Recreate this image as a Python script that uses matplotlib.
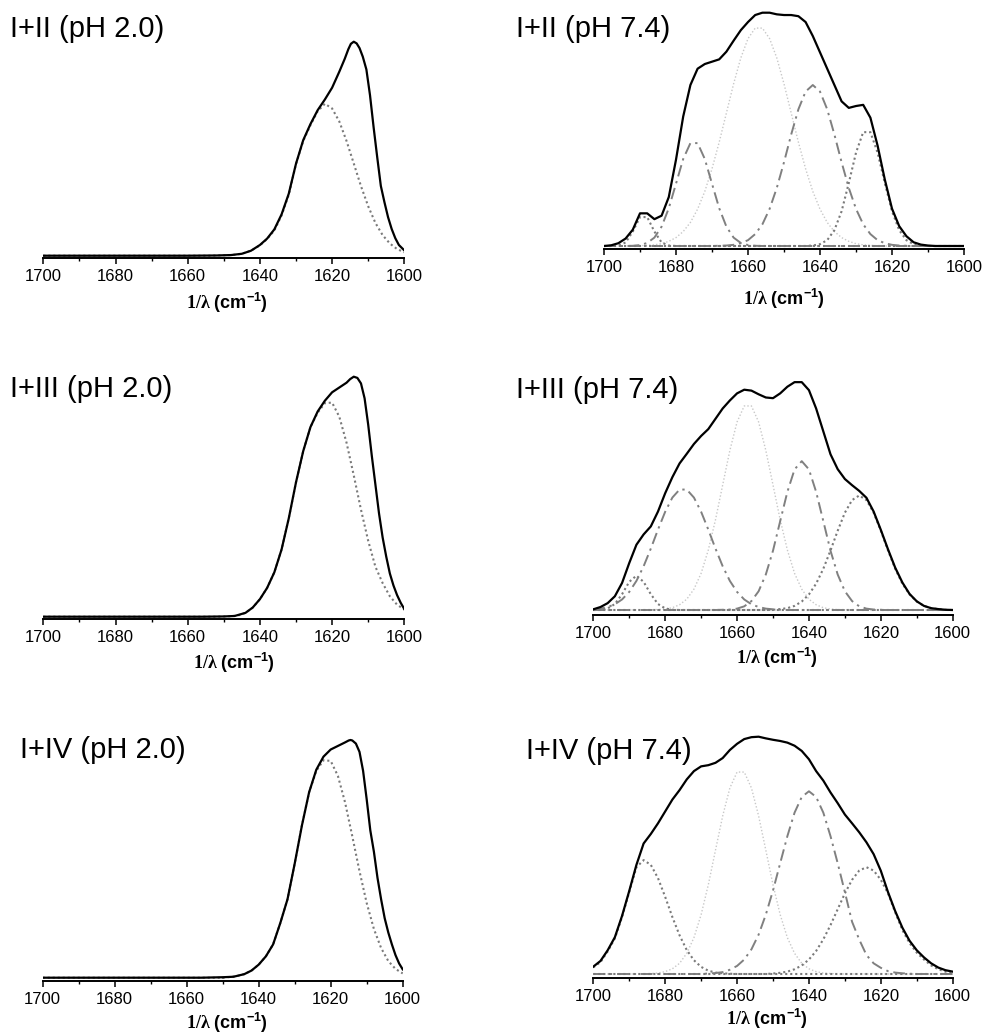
import numpy as np
import matplotlib
matplotlib.use("Agg")
import matplotlib.pyplot as plt

plt.rcParams['font.family'] = ['Liberation Sans', 'DejaVu Sans']
plt.rcParams['mathtext.fontset'] = 'custom'
plt.rcParams['mathtext.rm'] = 'Liberation Sans'
plt.rcParams['mathtext.bf'] = 'Liberation Serif:bold'
plt.rcParams['mathtext.sf'] = 'Liberation Sans:bold'

# wavenumber grid for the fitted bands, 1700 -> 1600 cm-1, every 2 cm-1
wn = np.arange(1700, 1599, -2)

# ---------------- I+II (pH 2.0) ----------------
wn_12_ph2 = [1700, 1660, 1652, 1648, 1645, 1642.5, 1640, 1638, 1636, 1634, 1632, 1630, 1628, 1626, 1624,
             1622, 1620, 1618, 1616.5, 1615.5, 1614.8, 1614, 1613.2, 1612.4, 1611.5, 1610.5, 1609.5, 1608.5,
             1607.5, 1606.5, 1605.5, 1604.5, 1603.5, 1602.5, 1601.5, 1600]
env_12_ph2 = [0, 0, 0.001, 0.003, 0.009, 0.023, 0.05, 0.08, 0.123, 0.193, 0.29, 0.43, 0.54, 0.615, 0.68,
              0.73, 0.785, 0.86, 0.92, 0.965, 0.99, 1.0, 0.992, 0.97, 0.93, 0.87, 0.75, 0.6,
              0.46, 0.326, 0.25, 0.18, 0.125, 0.082, 0.05, 0.025]
band_12_ph2 = [0]*24 + [0.001, 0.002, 0.003, 0.006, 0.014, 0.028, 0.048, 0.078, 0.118, 0.188, 0.285, 0.428, 0.536,
                        0.61, 0.675, 0.71, 0.688, 0.627, 0.536, 0.431, 0.325, 0.231, 0.153, 0.096, 0.057, 0.031, 0.016]

# ---------------- I+III (pH 2.0) ----------------
wn_13_ph2 = [1700, 1656, 1650, 1647, 1644, 1642, 1640, 1638, 1636, 1634, 1632, 1630, 1628, 1626, 1624, 1622,
             1620, 1618, 1616, 1615, 1614, 1613, 1612, 1611, 1610, 1609, 1608, 1607, 1606, 1605, 1604, 1603,
             1602, 1601, 1600]
env_13_ph2 = [0, 0, 0.001, 0.003, 0.016, 0.038, 0.073, 0.12, 0.185, 0.28, 0.41, 0.56, 0.69, 0.79, 0.855, 0.9,
              0.935, 0.955, 0.975, 0.99, 1.0, 0.995, 0.972, 0.91, 0.8, 0.67, 0.55, 0.43, 0.33, 0.25, 0.18, 0.13,
              0.09, 0.058, 0.032]
band_13_ph2 = [0]*25 + [0.001, 0.002, 0.005, 0.016, 0.038, 0.073, 0.12, 0.185, 0.28, 0.41, 0.56, 0.69, 0.79,
                        0.85, 0.89, 0.892, 0.833, 0.725, 0.589, 0.446, 0.316, 0.208, 0.14, 0.085, 0.05, 0.03]

# ---------------- I+IV (pH 2.0) ----------------
wn_14_ph2 = [1700, 1656, 1650, 1647, 1644, 1642, 1640, 1638, 1636, 1634, 1632, 1630, 1628, 1626, 1624, 1622,
             1620, 1618, 1616, 1615, 1614.5, 1614, 1613, 1612, 1611, 1610, 1609, 1608, 1607, 1606, 1605, 1604,
             1603, 1602, 1601, 1600]
env_14_ph2 = [0, 0, 0.002, 0.004, 0.015, 0.03, 0.055, 0.09, 0.14, 0.23, 0.33, 0.48, 0.64, 0.78, 0.875, 0.93,
              0.96, 0.975, 0.99, 0.998, 1.0, 0.998, 0.985, 0.95, 0.87, 0.75, 0.62, 0.53, 0.42, 0.33, 0.25, 0.19,
              0.14, 0.095, 0.06, 0.035]
band_14_ph2 = [0]*26 + [0.003, 0.007, 0.015, 0.03, 0.055, 0.09, 0.14, 0.23, 0.33, 0.48, 0.64, 0.78, 0.87,
                        0.915, 0.912, 0.849, 0.737, 0.595, 0.448, 0.314, 0.205, 0.125, 0.07, 0.037, 0.018]

# ---------------- I+II (pH 7.4) ----------------
env_12_ph7 = [0.0, 0.003, 0.012, 0.032, 0.07, 0.14, 0.14, 0.115, 0.13, 0.21, 0.37, 0.555, 0.69, 0.76, 0.78,
              0.79, 0.80, 0.833, 0.88, 0.925, 0.96, 0.99, 1.0, 1.0, 0.993, 0.99, 0.99, 0.985, 0.96, 0.9, 0.83,
              0.76, 0.69, 0.62, 0.592, 0.6, 0.605, 0.55, 0.43, 0.285, 0.16, 0.085, 0.042, 0.016, 0.006, 0.002,
              0.0, 0.0, 0.0, 0.0, 0.0]
band_12_ph7_1689 = [0, 0, 0.002, 0.015, 0.062, 0.124, 0.124, 0.062, 0.015, 0.002] + [0]*41
band_12_ph7_1675 = [0, 0, 0, 0, 0.001, 0.004, 0.013, 0.036, 0.083, 0.162, 0.267, 0.373, 0.441, 0.441, 0.373,
                    0.267, 0.162, 0.083, 0.036, 0.013, 0.004, 0.001] + [0]*29
band_12_ph7_1657 = [0]*5 + [0.001, 0.003, 0.005, 0.010, 0.020, 0.036, 0.062, 0.101, 0.158, 0.234, 0.331, 0.445,
                            0.570, 0.695, 0.806, 0.889, 0.934, 0.934, 0.889, 0.806, 0.695, 0.570, 0.445, 0.331,
                            0.234, 0.158, 0.101, 0.062, 0.036, 0.020, 0.010, 0.005, 0.003, 0.001] + [0]*12
band_12_ph7_1642 = [0]*16 + [0.001, 0.002, 0.005, 0.012, 0.025, 0.051, 0.093, 0.159, 0.249, 0.359, 0.478, 0.586,
                             0.662, 0.69, 0.662, 0.586, 0.478, 0.359, 0.249, 0.159, 0.093, 0.051, 0.025, 0.012,
                             0.005, 0.002, 0.001] + [0]*8
band_12_ph7_1627 = [0]*29 + [0.002, 0.008, 0.025, 0.068, 0.149, 0.27, 0.4, 0.488, 0.488, 0.4, 0.27, 0.149,
                             0.068, 0.025, 0.008, 0.002] + [0]*6

# ---------------- I+III (pH 7.4) ----------------
env_13_ph7 = [0.003, 0.013, 0.03, 0.06, 0.118, 0.205, 0.285, 0.33, 0.365, 0.43, 0.51, 0.58, 0.64, 0.682, 0.725,
              0.76, 0.79, 0.835, 0.88, 0.915, 0.946, 0.962, 0.958, 0.942, 0.928, 0.925, 0.946, 0.975, 0.995,
              0.995, 0.96, 0.88, 0.78, 0.68, 0.615, 0.572, 0.545, 0.52, 0.49, 0.43, 0.35, 0.265, 0.185, 0.12,
              0.07, 0.038, 0.018, 0.008, 0.004, 0.001, 0.0]
band_13_ph7_1688 = [0, 0.001, 0.007, 0.026, 0.069, 0.123, 0.15, 0.123, 0.069, 0.026, 0.007, 0.001] + [0]*39
band_13_ph7_1675 = [0.003, 0.006, 0.013, 0.025, 0.046, 0.079, 0.127, 0.191, 0.268, 0.351, 0.429, 0.491, 0.526,
                    0.526, 0.491, 0.429, 0.351, 0.268, 0.191, 0.127, 0.079, 0.046, 0.025, 0.013, 0.006, 0.003,
                    0.001] + [0]*24
band_13_ph7_1657 = [0]*8 + [0.001, 0.002, 0.004, 0.010, 0.023, 0.047, 0.091, 0.160, 0.262, 0.394, 0.546, 0.697,
                            0.821, 0.891, 0.891, 0.821, 0.697, 0.546, 0.394, 0.262, 0.160, 0.091, 0.047, 0.023,
                            0.010, 0.004, 0.002, 0.001] + [0]*15
band_13_ph7_1642 = [0]*18 + [0.001, 0.002, 0.006, 0.016, 0.039, 0.082, 0.155, 0.259, 0.388, 0.516, 0.614, 0.65,
                             0.614, 0.516, 0.388, 0.259, 0.155, 0.082, 0.039, 0.016, 0.006, 0.002, 0.001] + [0]*10
band_13_ph7_1626 = [0]*25 + [0.001, 0.004, 0.008, 0.018, 0.037, 0.068, 0.115, 0.18, 0.26, 0.346, 0.425, 0.48,
                             0.5, 0.48, 0.425, 0.346, 0.26, 0.18, 0.115, 0.068, 0.037, 0.018, 0.008, 0.004,
                             0.001, 0.0]

# ---------------- I+IV (pH 7.4) ----------------
env_14_ph7 = [0.031, 0.055, 0.1, 0.155, 0.245, 0.35, 0.46, 0.55, 0.59, 0.635, 0.685, 0.735, 0.775, 0.82, 0.855,
              0.875, 0.88, 0.89, 0.91, 0.944, 0.97, 0.99, 0.998, 1.0, 0.993, 0.987, 0.982, 0.975, 0.962, 0.94,
              0.905, 0.855, 0.815, 0.765, 0.72, 0.672, 0.635, 0.597, 0.555, 0.505, 0.435, 0.345, 0.265, 0.195,
              0.14, 0.1, 0.07, 0.045, 0.027, 0.016, 0.01]
band_14_ph7_1686 = [0.028, 0.05, 0.095, 0.15, 0.24, 0.345, 0.45, 0.48, 0.46, 0.404, 0.325, 0.24, 0.163, 0.101,
                    0.058, 0.03, 0.014, 0.006, 0.003, 0.001] + [0]*31
band_14_ph7_1659 = [0]*8 + [0.002, 0.004, 0.010, 0.022, 0.045, 0.087, 0.153, 0.25, 0.376, 0.522, 0.666, 0.784,
                            0.851, 0.851, 0.784, 0.666, 0.522, 0.376, 0.25, 0.153, 0.087, 0.045, 0.022, 0.010,
                            0.004, 0.002] + [0]*17
band_14_ph7_1640 = [0]*16 + [0.002, 0.004, 0.008, 0.018, 0.034, 0.061, 0.104, 0.166, 0.25, 0.352, 0.467, 0.581,
                             0.68, 0.746, 0.77, 0.746, 0.68, 0.581, 0.467, 0.345, 0.22, 0.145, 0.08, 0.045, 0.026,
                             0.012, 0.006, 0.003, 0.001] + [0]*6
band_14_ph7_1624 = [0]*25 + [0.002, 0.005, 0.01, 0.02, 0.036, 0.061, 0.097, 0.146, 0.206, 0.273, 0.34, 0.397,
                             0.436, 0.45, 0.436, 0.397, 0.34, 0.26, 0.185, 0.13, 0.09, 0.061, 0.036, 0.02, 0.01,
                             0.005]

titles = ['I+II (pH 2.0)', 'I+II (pH 7.4)', 'I+III (pH 2.0)', 'I+III (pH 7.4)', 'I+IV (pH 2.0)', 'I+IV (pH 7.4)']
envelopes = [(wn_12_ph2, env_12_ph2), (wn, env_12_ph7), (wn_13_ph2, env_13_ph2),
             (wn, env_13_ph7), (wn_14_ph2, env_14_ph2), (wn, env_14_ph7)]
bands = [
    [(band_12_ph2, 'dot')],
    [(band_12_ph7_1689, 'dot'), (band_12_ph7_1675, 'dashdot'), (band_12_ph7_1657, 'light'),
     (band_12_ph7_1642, 'dashdot'), (band_12_ph7_1627, 'dot')],
    [(band_13_ph2, 'dot')],
    [(band_13_ph7_1688, 'dot'), (band_13_ph7_1675, 'dashdot'), (band_13_ph7_1657, 'light'),
     (band_13_ph7_1642, 'dashdot'), (band_13_ph7_1626, 'dot')],
    [(band_14_ph2, 'dot')],
    [(band_14_ph7_1686, 'dot'), (band_14_ph7_1659, 'light'), (band_14_ph7_1640, 'dashdot'),
     (band_14_ph7_1624, 'dot')],
]

styles = {
    'dot': dict(color='#7a7a7a', lw=1.5, ls=(0, (1, 1.4)), zorder=3),
    'dashdot': dict(color='#808080', lw=1.4, ls=(0, (6, 2.5, 1.2, 2.5)), zorder=3),
    'light': dict(color='#c8c8c8', lw=1.0, ls=(0, (1, 1.5)), zorder=2),
}

# panel placement in pixels (x of 1700, x of 1600, axis line y, zero level y, px per unit,
# title origin, x-label centre)
W, H = 982, 1033
layout = [
    (43.3, 404.3, 258.0, 255.7, 214.0, (10, 37.3), (227, 303)),
    (604.0, 964.0, 249.0, 246.0, 233.3, (516, 37.3), (784, 299)),
    (43.3, 404.3, 619.3, 616.7, 240.0, (10, 397.3), (234, 663)),
    (593.3, 952.7, 614.5, 610.0, 229.0, (516, 398.3), (777, 658)),
    (42.7, 402.7, 981.0, 977.7, 237.7, (20, 758.3), (227, 1023)),
    (593.3, 952.7, 978.3, 974.0, 237.3, (526, 759.3), (767, 1019)),
]

xlab = r'$\mathbf{1/\lambda}$ (cm$^{\mathsf{-1}}$)'

fig = plt.figure(figsize=(W/100, H/100), dpi=100)
for i in range(6):
    x0, x1, yax, ybase, scale, tpos, lpos = layout[i]
    top = 1.12
    hpx = (yax - ybase) + top*scale
    ax = fig.add_axes([x0/W, 1 - yax/H, (x1 - x0)/W, hpx/H])
    for vals, st in bands[i]:
        ax.plot(wn, vals, **styles[st])
    ex, ey = envelopes[i]
    ax.plot(ex, ey, color='black', lw=1.6, zorder=4)
    ax.set_xlim(1700, 1600)
    ax.set_ylim(-(yax - ybase)/scale, top)
    for s in ['top', 'right', 'left']:
        ax.spines[s].set_visible(False)
    ax.spines['bottom'].set_linewidth(1.4)
    ax.set_yticks([])
    ax.set_xticks([1700, 1680, 1660, 1640, 1620, 1600])
    ax.set_xticks(np.arange(1690, 1600, -20), minor=True)
    ax.tick_params(axis='x', which='major', direction='out', length=4.5, width=1.1, pad=3.5, labelsize=12)
    ax.tick_params(axis='x', which='minor', direction='out', length=2.5, width=1.0)
    ax.patch.set_alpha(0)
    fig.text(tpos[0]/W, 1 - tpos[1]/H, titles[i], fontsize=21, va='baseline', ha='left')
    fig.text(lpos[0]/W, 1 - lpos[1]/H, xlab, fontsize=13, fontweight='bold', ha='center', va='center')

fig.savefig('out.png', dpi=100)
